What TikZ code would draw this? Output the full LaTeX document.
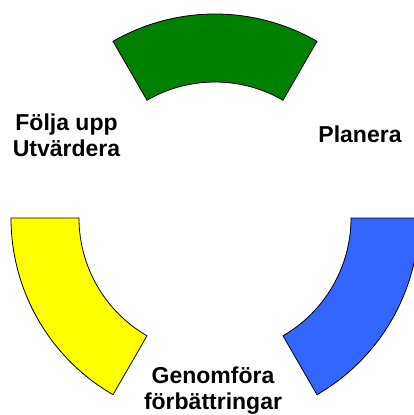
\documentclass[tikz,border=0pt]{standalone}
\usepackage{fontspec}
\setmainfont{Liberation Sans}
\definecolor{segGreen}{RGB}{0,128,0}
\definecolor{segBlue}{RGB}{51,102,255}
\definecolor{segYellow}{RGB}{255,255,0}
\tikzset{
  seg/.style={draw=black, line width=0.8pt, line join=miter},
  lbl/.style={font=\bfseries\fontsize{23}{26}\selectfont, align=center, inner sep=0pt, text=black}
}
\begin{document}
\begin{tikzpicture}[x=1pt,y=1pt]
\useasboundingbox (0,0) rectangle (414,-415);
\clip (0,0) rectangle (414,-415);
\begin{scope}[shift={(215,-218)}]
  \draw[seg, fill=segGreen] (60:204) arc[start angle=60, end angle=120, radius=204]
     -- (120:136) arc[start angle=120, end angle=60, radius=136] -- cycle;
  \draw[seg, fill=segBlue] (0:204) arc[start angle=0, end angle=-60, radius=204]
     -- (-60:136) arc[start angle=-60, end angle=0, radius=136] -- cycle;
  \draw[seg, fill=segYellow] (180:204) arc[start angle=180, end angle=240, radius=204]
     -- (240:136) arc[start angle=240, end angle=180, radius=136] -- cycle;
\end{scope}
\node[lbl] (folja) at (66.5,-135) {Följa upp\\Utvärdera};
\node[lbl] (planera) at (360,-134.5) {Planera};
\node[lbl] (genomfora) at (213,-390.5) {Genomföra\\förbättringar};
\end{tikzpicture}
\end{document}
